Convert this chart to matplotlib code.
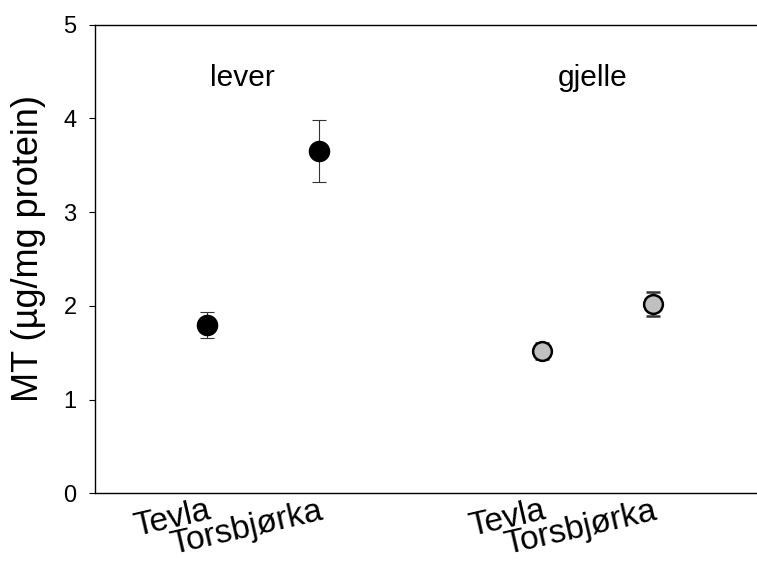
import matplotlib
matplotlib.use("Agg")
import matplotlib.pyplot as plt

plt.rcParams['font.family'] = ['Liberation Sans', 'DejaVu Sans']

groups = ["lever", "gjelle"]
sites = ["Tevla", "Torsbjørka"]
lever_mean = [1.80, 3.65]
lever_err = [0.14, 0.33]
gjelle_mean = [1.52, 2.02]
gjelle_err = [0.09, 0.13]
yticks = [0, 1, 2, 3, 4, 5]
ylabel = "MT (µg/mg protein)"

fig = plt.figure(figsize=(7.57, 5.62), dpi=100)
ax = fig.add_axes([0.126, 0.122, 0.874, 0.834])

pos_lever = [1 + i for i in range(len(sites))]
pos_gjelle = [4 + i for i in range(len(sites))]

ax.errorbar(pos_lever, lever_mean, yerr=lever_err, fmt='o', color='black',
            ecolor='#333333', elinewidth=0.8, capsize=5, capthick=0.8,
            markersize=14.5, markerfacecolor='black', markeredgecolor='black', zorder=3)
ax.errorbar(pos_gjelle, gjelle_mean, yerr=gjelle_err, fmt='o', color='black',
            ecolor='#333333', elinewidth=0.8, capsize=5, capthick=0.8,
            markersize=13.5, markerfacecolor='#c0c0c0', markeredgecolor='black',
            markeredgewidth=1.8, zorder=3)

ax.set_xlim(0, 5.93)
ax.set_ylim(0, 5)
ax.set_yticks(yticks)
ax.set_yticklabels([str(t) for t in yticks], fontsize=17)
ax.tick_params(axis='y', direction='out', length=4.5, width=0.8, pad=9)

ax.set_xticks(pos_lever + pos_gjelle)
ax.set_xticklabels(sites + sites, fontsize=24, rotation=13, ha='right', va='top',
                   rotation_mode='anchor')
ax.tick_params(axis='x', length=0, pad=1.5)

ax.set_ylabel(ylabel, fontsize=26)
ax.yaxis.set_label_coords(-0.075, 0.523)

ax.text(1.32, 4.43, groups[0], fontsize=21.5, ha='center', va='center')
ax.text(4.46, 4.43, groups[1], fontsize=21.5, ha='center', va='center')

ax.spines['right'].set_visible(False)
for s in ['left', 'top', 'bottom']:
    ax.spines[s].set_linewidth(1.0)

fig.savefig("out.png", dpi=100)
